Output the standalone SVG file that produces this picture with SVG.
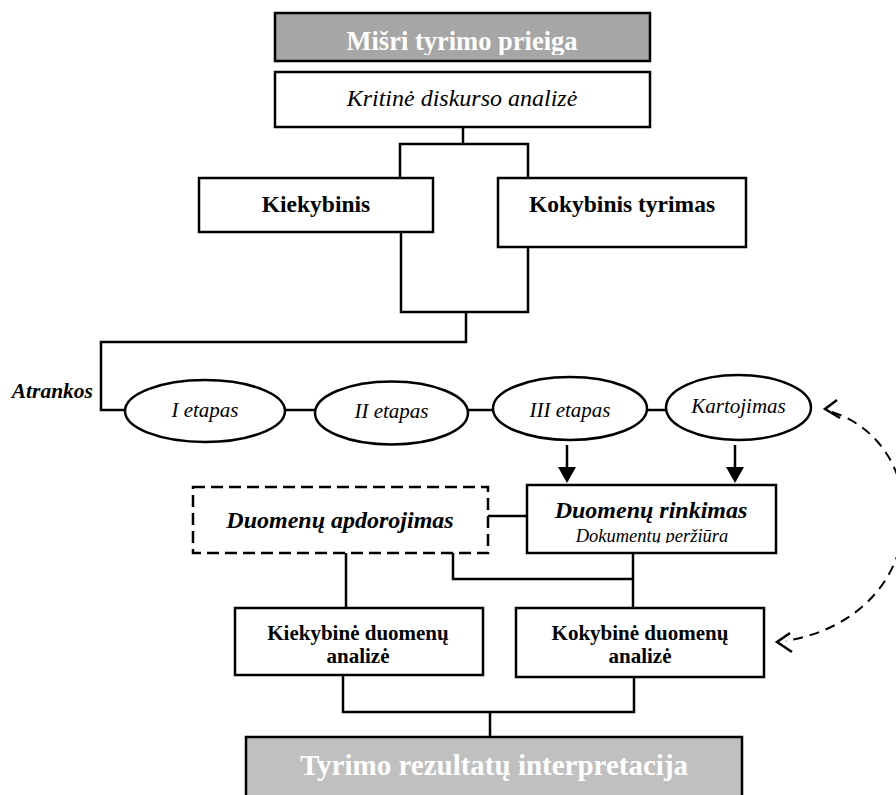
<svg xmlns="http://www.w3.org/2000/svg" width="896" height="795" viewBox="0 0 896 795">
<style>
.box{fill:#fff;stroke:#000;stroke-width:2.5}
.gray1{fill:#a6a6a6;stroke:#000;stroke-width:2.5}
.gray2{fill:#c0c0c0;stroke:#000;stroke-width:2.5}
.dash{fill:#fff;stroke:#000;stroke-width:2.5;stroke-dasharray:12 6}
.ell{fill:#fff;stroke:#000;stroke-width:2.5}
.ln{fill:none;stroke:#000;stroke-width:2.5}
.dl{fill:none;stroke:#000;stroke-width:2;stroke-dasharray:10 7}
.ah{fill:#000;stroke:none}
.t{font-family:"Liberation Serif","Times New Roman",serif;text-anchor:middle;fill:#000}
.b{font-weight:bold}
.i{font-style:italic}
.w{fill:#fff}
</style>
<defs>
<clipPath id="c1"><rect x="275" y="12" width="375" height="43"/></clipPath>
<clipPath id="c2"><rect x="527" y="485" width="249" height="58"/></clipPath>
<clipPath id="c3"><rect x="246" y="737" width="496" height="44"/></clipPath>
</defs>
<g id="connectors">
<path class="ln" d="M463,127 V144"/>
<path class="ln" d="M400,178 V144 H528 V178"/>
<path class="ln" d="M401,232 V312 H528 V247"/>
<path class="ln" d="M466,312 V342 H101 V410 H125"/>
<path class="ln" d="M285,410 H315"/>
<path class="ln" d="M468,410 H493"/>
<path class="ln" d="M647,410 H666"/>
<path class="ln" d="M567,445 V469"/>
<polygon class="ah" points="558,467 576,467 567,483"/>
<path class="ln" d="M735,445 V469"/>
<polygon class="ah" points="726,467 744,467 735,483"/>
<path class="ln" d="M488,516 H527"/>
<path class="ln" d="M633,553 V608"/>
<path class="ln" d="M453,553 V579 H633"/>
<path class="ln" d="M346,553 V608"/>
<path class="ln" d="M343,675 V712 H634 V677"/>
<path class="ln" d="M490,712 V737"/>
<path class="dl" d="M832,412 C935,445 935,615 786,641"/>
<path class="ln" d="M837,400 L825,409 L840,418" stroke-width="2"/>
<path class="ln" d="M790,633 L777,642 L792,652" stroke-width="2"/>
</g>
<g id="n-mishri">
<rect class="gray1" x="275" y="13" width="375" height="48"/>
<text class="t b w" x="462" y="50" font-size="26.5" clip-path="url(#c1)">Mišri tyrimo prieiga</text>
</g>
<g id="n-kritine">
<rect class="box" x="275" y="72" width="375" height="55"/>
<text class="t i" x="462" y="106" font-size="24">Kritinė diskurso analizė</text>
</g>
<g id="n-kiekybinis">
<rect class="box" x="199" y="178" width="234" height="54"/>
<text class="t b" x="316" y="212" font-size="23.5">Kiekybinis</text>
</g>
<g id="n-kokybinis">
<rect class="box" x="498" y="178" width="248" height="69"/>
<text class="t b" x="622" y="212" font-size="23.5">Kokybinis tyrimas</text>
</g>
<g id="n-atrankos">
<text class="t b i" x="93" y="398" font-size="21.5" style="text-anchor:end">Atrankos</text>
</g>
<g id="n-etapas1">
<ellipse class="ell" cx="205" cy="411" rx="80" ry="31"/>
<text class="t i" x="205" y="417" font-size="21">I etapas</text>
</g>
<g id="n-etapas2">
<ellipse class="ell" cx="391.5" cy="413" rx="76.5" ry="31.5"/>
<text class="t i" x="391.5" y="418" font-size="21">II etapas</text>
</g>
<g id="n-etapas3">
<ellipse class="ell" cx="570" cy="408.5" rx="77" ry="31.5"/>
<text class="t i" x="570" y="417" font-size="21">III etapas</text>
</g>
<g id="n-kartojimas">
<ellipse class="ell" cx="738.5" cy="407.5" rx="72.5" ry="32.5"/>
<text class="t i" x="738.5" y="413" font-size="21">Kartojimas</text>
</g>
<g id="n-apdorojimas">
<rect class="dash" x="193" y="487" width="295" height="66"/>
<text class="t b i" x="340" y="528" font-size="24">Duomenų apdorojimas</text>
</g>
<g id="n-rinkimas">
<rect class="box" x="527" y="485" width="249" height="68"/>
<text class="t b i" x="651" y="518" font-size="24">Duomenų rinkimas</text>
<text class="t i" x="652" y="542" font-size="18.5" clip-path="url(#c2)">Dokumentų peržiūra</text>
</g>
<g id="n-kiekybine">
<rect class="box" x="235" y="608" width="248" height="67"/>
<text class="t b" x="358" y="640" font-size="21">Kiekybinė duomenų</text>
<text class="t b" x="358" y="663" font-size="21">analizė</text>
</g>
<g id="n-kokybine">
<rect class="box" x="516" y="608" width="248" height="69"/>
<text class="t b" x="640" y="640" font-size="21">Kokybinė duomenų</text>
<text class="t b" x="640" y="663" font-size="21">analizė</text>
</g>
<g id="n-tyrimo">
<rect class="gray2" x="246" y="737" width="496" height="70"/>
<text class="t b w" x="494" y="775" font-size="29" clip-path="url(#c3)">Tyrimo rezultatų interpretacija</text>
</g>
</svg>
